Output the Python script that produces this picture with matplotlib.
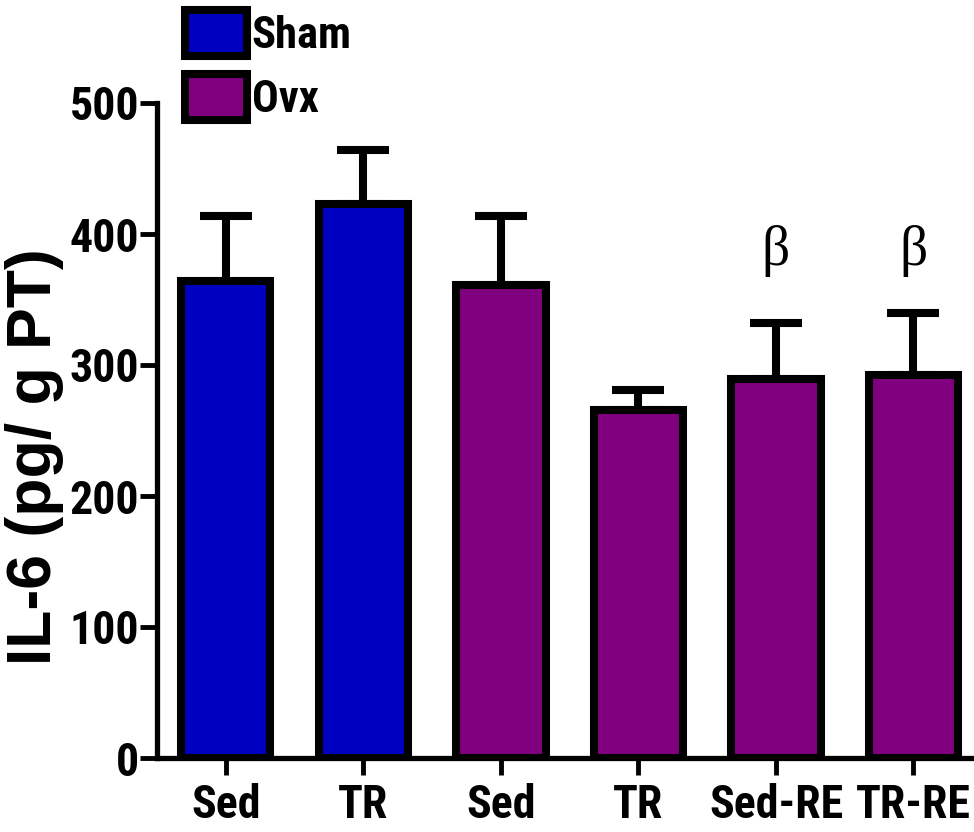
import matplotlib
matplotlib.use("Agg")
import matplotlib.pyplot as plt
from matplotlib import font_manager as fm
from matplotlib.patches import Patch

names = {f.name for f in fm.fontManager.ttflist}
narrow = 'Liberation Sans'
for cand in ['Liberation Sans Narrow', 'Arial Narrow', 'Roboto Condensed', 'PT Sans Narrow',
             'Archivo Narrow', 'Open Sans Condensed']:
    if cand in names:
        narrow = cand
        break
is_narrow = narrow != 'Liberation Sans'

categories = ["Sed", "TR", "Sed", "TR", "Sed-RE", "TR-RE"]
groups = ["Sham", "Sham", "Ovx", "Ovx", "Ovx", "Ovx"]
means = [364, 423, 361, 266, 289, 292]
errors = [50, 41, 53, 15, 43, 48]
beta_marks = [False, False, False, False, True, True]
beta_y = 387
colors = {"Sham": "#0000C0", "Ovx": "#800080"}

fig = plt.figure(figsize=(9.74, 8.32), dpi=100)
ax = fig.add_axes([157/974, 74/832, 817/974, 655/832])

x = list(range(len(categories)))
lw = 5.8
ax.errorbar(x, means, yerr=[[0]*len(means), errors], fmt='none', ecolor='black',
            elinewidth=lw, capsize=19, capthick=lw, zorder=2)
ax.bar(x, means, width=0.65, color=[colors[g] for g in groups], edgecolor='black',
       linewidth=lw, zorder=3)

for xi, b in zip(x, beta_marks):
    if b:
        ax.text(xi, beta_y, "β", ha='center', va='center', fontsize=40,
                family='Liberation Serif', zorder=4)

ax.set_xlim(-0.50, 5.44)
ax.set_ylim(0, 500)
ax.set_yticks([0, 100, 200, 300, 400, 500])
ax.set_xticks(x)
ax.set_xticklabels(categories)
for s in ['top', 'right']:
    ax.spines[s].set_visible(False)
for s in ['left', 'bottom']:
    ax.spines[s].set_linewidth(3.8)
ax.tick_params(axis='both', width=3.5, length=12)
ax.tick_params(axis='y', pad=1, labelsize=33 if is_narrow else 29)
ax.tick_params(axis='x', pad=6, labelsize=33 if is_narrow else 27.5)
for lab in ax.get_xticklabels() + ax.get_yticklabels():
    lab.set_fontfamily(narrow)
    lab.set_fontweight('bold')

fig.text(35/974, 1 - 457/832, "IL-6 (pg/ g PT)", rotation=90, ha='center', va='center',
         fontsize=45, fontweight='bold', family='Liberation Sans')

handles = [Patch(facecolor=colors["Sham"], edgecolor='black', linewidth=lw, label="Sham"),
           Patch(facecolor=colors["Ovx"], edgecolor='black', linewidth=lw, label="Ovx")]
fig.legend(handles=handles, loc='upper left', bbox_to_anchor=(185/974, 1 - 10/832),
           frameon=False, borderpad=0, borderaxespad=0, handlelength=1.4, handleheight=1.2,
           labelspacing=0.39, handletextpad=0.1,
           prop={'family': narrow, 'weight': 'bold', 'size': 32 if is_narrow else 28})

fig.savefig("out.png", dpi=100)
